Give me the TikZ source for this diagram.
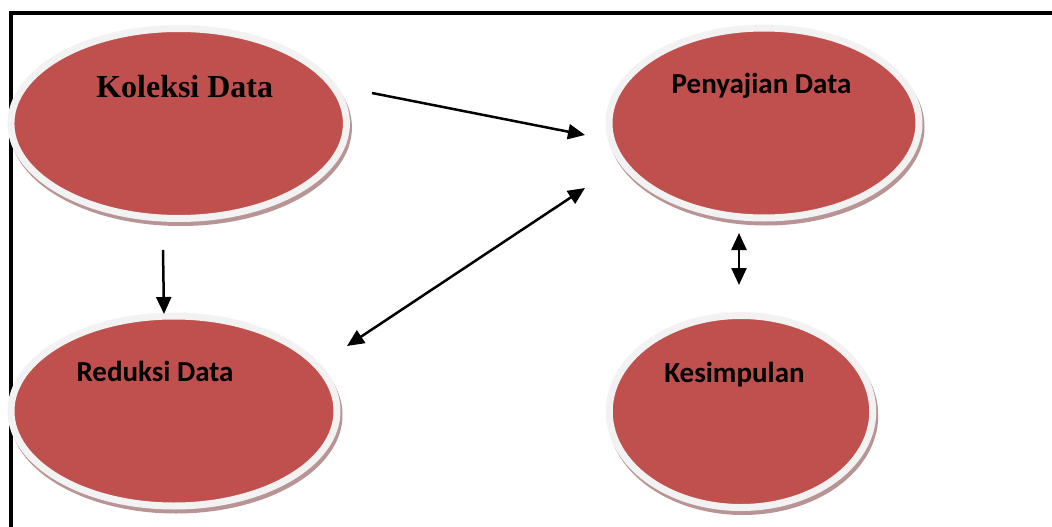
\documentclass[tikz,border=0pt]{standalone}
\usepackage{fontspec}
\setmainfont{Liberation Serif}
\newfontfamily\calibri{Carlito}
\usetikzlibrary{shapes.geometric,arrows.meta}
\definecolor{merah}{HTML}{C0504D}
\definecolor{cincin}{HTML}{F2F2F2}
\definecolor{bayang}{HTML}{B89494}
\tikzstyle{tahap}=[ellipse,fill=merah,draw=cincin,line width=7pt,inner sep=0pt,
  preaction={draw=bayang,fill=bayang,line width=7pt,transform canvas={xshift=2pt,yshift=-4pt}}]
\tikzstyle{judul}=[font=\calibri\bfseries\fontsize{29}{31}\selectfont,anchor=base,inner sep=0pt]
\tikzstyle{panah}=[draw,line width=2.5pt,-{Triangle[length=17pt,width=15pt]}]
\tikzstyle{panahdua}=[panah,{Triangle[length=17pt,width=15pt]}-{Triangle[length=17pt,width=15pt]}]

\begin{document}
\begin{tikzpicture}[x=1pt,y=-1pt]
    \useasboundingbox (0,0) rectangle (1052,527);
    % bingkai
    \draw[line width=4.5pt] (11,540) -- (11,13) -- (1060,13);
    % tahapan
    \foreach \pos/\name/\w/\h in {{(178.7,123.5)/koleksi/335.5/190}, {(764,123)/penyajian/310/190},
        {(174,411)/reduksi/326/190}, {(741,411.5)/kesimpulan/263.5/192}}
        \node[tahap,minimum width=\w pt,minimum height=\h pt] (\name) at \pos {};
    % teks
    \node[judul,font=\bfseries\fontsize{32}{34}\selectfont] (koleksi-t) at ([shift={(6,-26.5)}]koleksi.center) {Koleksi Data};
    \foreach \name/\dx/\dy/\teks in {penyajian/-2.5/-30/Penyajian Data, reduksi/-19/-30/Reduksi Data, kesimpulan/-6.5/-29.5/Kesimpulan}
        \node[judul] (\name-t) at ([shift={(\dx,\dy)}]\name.center) {\teks};
    % panah
    \foreach \source/\sx/\sy/\dest/\tx/\ty/\jenis in {koleksi/193.3/-30.5/penyajian/-179/12/panah,
        koleksi/-15.7/126.5/reduksi/-10/-97/panah, penyajian/-179/65/reduksi/173/-65/panahdua,
        penyajian/-25/110/kesimpulan/-2/-126.5/panahdua}
        \path[\jenis] ([shift={(\sx,\sy)}]\source.center) -- ([shift={(\tx,\ty)}]\dest.center);
\end{tikzpicture}
\end{document}
